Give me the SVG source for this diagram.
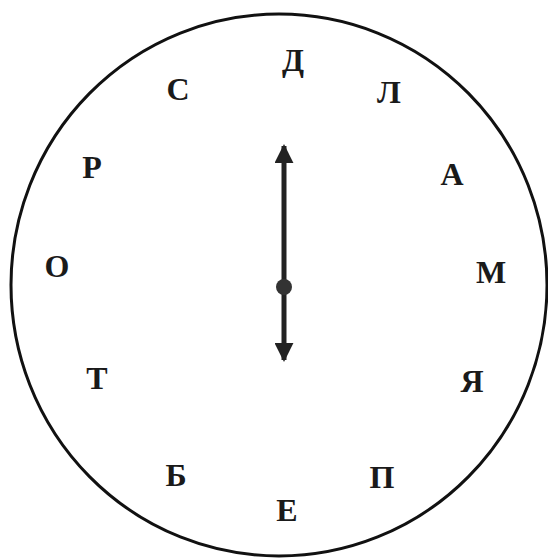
<svg xmlns="http://www.w3.org/2000/svg" width="548" height="558" viewBox="0 0 548 558">
<style>
.l{font-family:"Liberation Serif","DejaVu Serif",serif;font-weight:bold;font-size:32px;fill:#1a1a1a;text-anchor:middle}
.face{fill:#fff;stroke:#111;stroke-width:3}
.hand{stroke:#222;stroke-width:5;fill:none}
</style>
<defs>
<marker id="ah" viewBox="0 0 20 20" refX="18" refY="10" markerWidth="3.8" markerHeight="3.8" orient="auto-start-reverse" markerUnits="strokeWidth">
<path d="M0,0 L20,10 L0,20 z" fill="#222"/>
</marker>
</defs>
<rect width="548" height="558" fill="#fff"/>
<g id="face"><ellipse class="face" cx="279" cy="285" rx="268" ry="271"/></g>
<g id="letter-D"><text class="l" x="293" y="71">Д</text></g>
<g id="letter-L"><text class="l" x="389" y="103">Л</text></g>
<g id="letter-A"><text class="l" x="452" y="185">А</text></g>
<g id="letter-M"><text class="l" x="491" y="283">М</text></g>
<g id="letter-Ya"><text class="l" x="472" y="392">Я</text></g>
<g id="letter-P"><text class="l" x="382" y="488">П</text></g>
<g id="letter-E"><text class="l" x="287" y="521">Е</text></g>
<g id="letter-B"><text class="l" x="176" y="486">Б</text></g>
<g id="letter-T"><text class="l" x="97" y="389">Т</text></g>
<g id="letter-O"><text class="l" x="57" y="277">О</text></g>
<g id="letter-R"><text class="l" x="92" y="178">Р</text></g>
<g id="letter-S"><text class="l" x="178" y="100">С</text></g>
<g id="connectors">
<line class="hand" x1="284" y1="146" x2="284" y2="360" marker-start="url(#ah)" marker-end="url(#ah)"/>
<circle cx="284" cy="287" r="8" fill="#333"/>
</g>
</svg>
